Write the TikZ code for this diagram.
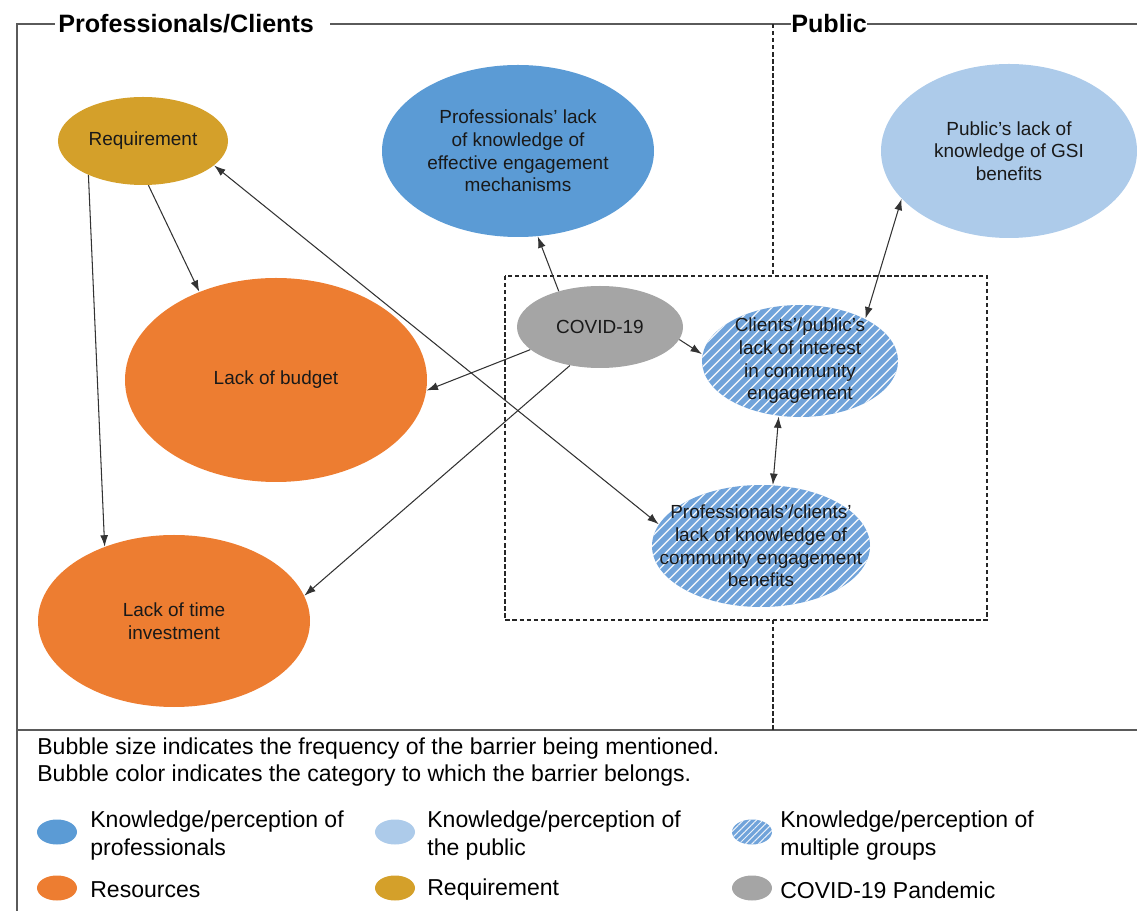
\documentclass[tikz,border=0pt]{standalone}
\usepackage{fontspec}
\setmainfont{Liberation Sans}
\usepackage{tikz}
\usetikzlibrary{shapes.geometric,patterns.meta,arrows.meta,positioning}

\definecolor{profblue}{HTML}{5B9BD5}
\definecolor{pubblue}{HTML}{ADCBEA}
\definecolor{resorange}{HTML}{ED7D31}
\definecolor{reqgold}{HTML}{D4A02A}
\definecolor{covidgray}{HTML}{A5A5A5}
\definecolor{multiblue}{HTML}{70A3DA}
\definecolor{framegray}{HTML}{5A5A5A}

\begin{document}
\begin{tikzpicture}[x=0.2mm, y=-0.2mm, >={Latex[length=6.5pt,width=4.5pt]}, %坐标按像素给出
    bubble/.style={ellipse, inner sep=-1cm, align=center, text=black!90, font=\fontsize{10.8}{12.9}\selectfont},
    multi/.style={bubble, preaction={fill=multiblue}, pattern={Lines[angle=45,distance=4pt,line width=0.9pt]}, pattern color=white!85!multiblue},
    link/.style={->, draw=black!80, line width=0.6pt},
    twoway/.style={<->, draw=black!80, line width=0.6pt},
    dashbox/.style={draw=black!85, line width=0.7pt, dash pattern=on 2.5pt off 1.5pt},
    legdot/.style={ellipse, minimum width=0.8cm, minimum height=0.5cm, inner sep=0pt},
    legtext/.style={align=left, inner sep=0pt, font=\fontsize{13.1}{15.6}\selectfont},
    grouptitle/.style={anchor=base west, inner sep=0pt, font=\bfseries\fontsize{14.3}{17}\selectfont}]
    \useasboundingbox (0,0) rectangle (1137,911);

    % 外框与分区
    \node[grouptitle] (pctitle) at (58,33) {Professionals/Clients};
    \node[grouptitle] (pubtitle) at (791,33) {Public};
    \draw[framegray, line width=0.8pt] (17,911) -- (17,24) -- (55,24);
    \draw[framegray, line width=0.8pt] (330,24) -- (pubtitle.west |- 0,24);
    \draw[framegray, line width=0.8pt] (pubtitle.east |- 0,24) -- (1137,24);
    \draw[framegray, line width=0.8pt] (17,730) -- (1137,730);
    \draw[dashbox] (773,24) -- (773,276);
    \draw[dashbox] (773,620) -- (773,730);
    \draw[dashbox] (505,276) rectangle (987,620); %多群体框

    % 气泡
    \node[bubble, fill=reqgold, minimum width=3.4cm, minimum height=1.76cm] (req) at (143,141) {Requirement};
    \node[bubble, fill=profblue, minimum width=5.44cm, minimum height=3.44cm] (proflack) at (518,151) {Professionals’ lack\\of knowledge of\\effective engagement\\mechanisms};
    \node[bubble, fill=pubblue, minimum width=5.12cm, minimum height=3.48cm] (publack) at (1009,151) {Public’s lack of\\knowledge of GSI\\benefits};
    \node[bubble, fill=covidgray, minimum width=3.32cm, minimum height=1.64cm] (covid) at (600,327) {COVID-19};
    \node[multi, minimum width=3.92cm, minimum height=2.24cm] (interest) at (800,361) {Clients’/public’s\\lack of interest\\in community\\engagement};
    \node[multi, minimum width=4.36cm, minimum height=2.44cm] (benefits) at (761,546) {Professionals’/clients’\\lack of knowledge of\\community engagement\\benefits};
    \node[bubble, fill=resorange, minimum width=6.04cm, minimum height=4.08cm] (budget) at (276,380) {Lack of budget};
    \node[bubble, fill=resorange, minimum width=5.44cm, minimum height=3.44cm] (time) at (174,621) {Lack of time\\investment};

    % 箭头
    \draw[link] (req.-83) -- (budget.131);
    \draw[link] (req.212) -- (time.133);
    \draw[twoway] (req.-19) -- (benefits.168);
    \draw[link] (covid.139) -- (proflack.-77);
    \draw[link] (covid.-9) -- (interest.176);
    \draw[link] (covid.198) -- (budget.-4);
    \draw[link] (covid.232) -- (time.11);
    \draw[twoway] (interest.33) -- (publack.204);
    \draw[twoway] (interest.-111) -- (benefits.79);

    % 图例
    \node[legtext, anchor=west] (legnote) at (37,762) {Bubble size indicates the frequency of the barrier being mentioned.\\Bubble color indicates the category to which the barrier belongs.};
    \node[legdot, fill=profblue] (legprof) at (57,832) {};
    \node[legdot, fill=pubblue] (legpub) at (395,832) {};
    \node[legdot, preaction={fill=multiblue}, pattern={Lines[angle=45,distance=2.6pt,line width=0.6pt]}, pattern color=white!85!multiblue] (legmulti) at (752,832) {};
    \node[legdot, fill=resorange] (legres) at (57,888) {};
    \node[legdot, fill=reqgold] (legreq) at (395,888) {};
    \node[legdot, fill=covidgray] (legcovid) at (752,888) {};
    \node[legtext, right=0.66cm of legprof.center, anchor=west, yshift=-0.07cm] (legprofT) {Knowledge/perception of\\professionals};
    \node[legtext, right=0.64cm of legpub.center, anchor=west, yshift=-0.07cm] (legpubT) {Knowledge/perception of\\the public};
    \node[legtext, right=0.56cm of legmulti.center, anchor=west, yshift=-0.07cm] (legmultiT) {Knowledge/perception of\\multiple groups};
    \node[legtext, right=0.66cm of legres.center, anchor=west, yshift=-0.04cm] (legresT) {Resources};
    \node[legtext, right=0.64cm of legreq.center, anchor=west, yshift=-0.04cm] (legreqT) {Requirement};
    \node[legtext, right=0.56cm of legcovid.center, anchor=west, yshift=-0.04cm] (legcovidT) {COVID-19 Pandemic};
\end{tikzpicture}
\end{document}
